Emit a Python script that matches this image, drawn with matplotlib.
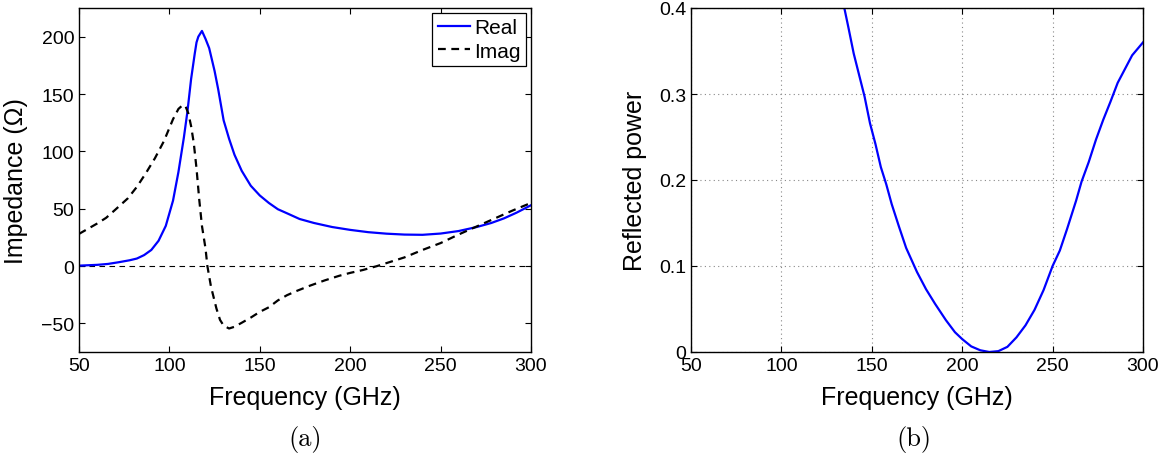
import numpy as np
import matplotlib
matplotlib.use('Agg')
import matplotlib.pyplot as plt

plt.rcParams['font.family'] = ['Liberation Sans', 'DejaVu Sans']

# (a) impedance vs frequency
freq_real = [50, 60, 66, 72, 78, 82, 86, 90, 94, 98, 102, 105, 108, 110, 112, 114, 115,
             116, 118, 120, 122, 125, 127, 130, 133, 136, 140, 145, 150, 155, 160, 165,
             172, 180, 190, 200, 210, 220, 230, 240, 250, 260, 270, 278, 285, 292, 300]
z_real = [0.3, 1, 1.8, 3.3, 5, 6.5, 9.5, 14, 22, 35, 57, 82, 112, 135, 163, 185, 195,
          200, 205, 198, 190, 170, 154, 127, 111, 97, 83, 70, 61.5, 55, 49.5, 46,
          41, 37.5, 34, 31.5, 29.5, 28.2, 27.4, 27.2, 28.3, 30.5, 34, 37.5, 41.5, 46.5, 53]

freq_imag = [50, 60, 65, 70, 77, 82, 87, 92, 97, 102, 105, 107.5, 109, 110.5, 112, 113.5,
             115, 116.5, 118, 120, 121, 123, 126, 128, 130, 133, 136, 140, 145, 150, 155,
             160, 165, 170, 178, 186, 194, 200, 207, 215, 222, 230, 240, 250, 260, 270,
             280, 290, 300]
z_imag = [28, 37, 42, 49, 59, 69, 81, 94, 109, 128, 137, 140.5, 139, 133, 122, 107,
          85, 58, 35, 15, 0, -18, -37, -47, -52, -54.5, -53, -49.5, -45, -40, -36,
          -30, -25.5, -22, -17, -12.5, -8.5, -6, -3.5, 0, 3.5, 7.5, 14, 20, 27.5, 34.5,
          41.5, 48.5, 55]

# (b) reflected power vs frequency
freq_refl = [134, 137, 140, 143, 146, 149, 152, 155, 158, 161, 165, 169, 175, 180, 185,
             191, 196, 200, 205, 210, 215, 220, 225, 230, 235, 240, 245, 250, 254, 258,
             263, 266, 270, 274, 278, 282, 286, 290, 294, 300]
p_refl = [0.408, 0.378, 0.347, 0.322, 0.297, 0.266, 0.242, 0.215, 0.195, 0.172, 0.146,
          0.121, 0.093, 0.073, 0.056, 0.037, 0.023, 0.015, 0.0065, 0.002, 0.0, 0.001,
          0.006, 0.017, 0.031, 0.049, 0.072, 0.1, 0.118, 0.143, 0.176, 0.198, 0.221,
          0.247, 0.27, 0.291, 0.313, 0.329, 0.345, 0.36]

x_ticks = [50, 100, 150, 200, 250, 300]
z_ticks = [-50, 0, 50, 100, 150, 200]
p_ticks = [0, 0.1, 0.2, 0.3, 0.4]
p_ticklabels = ['0', '0.1', '0.2', '0.3', '0.4']

W, H = 1164, 464
fig = plt.figure(figsize=(W / 100, H / 100), dpi=100)
ax1 = fig.add_axes([79 / W, 1 - 353 / H, (531 - 79) / W, (353 - 9) / H])
ax2 = fig.add_axes([691 / W, 1 - 353 / H, (1143 - 691) / W, (353 - 9) / H])


def matlab_axes(ax):
    ax.tick_params(direction='in', length=4, width=0.8, top=True, right=True,
                   labelsize=14, colors='k')
    for s in ax.spines.values():
        s.set_linewidth(1.0)
        s.set_color('k')


# left panel
ax1.axhline(0, color='k', lw=0.8, ls=(0, (5, 4)))
ax1.plot(freq_real, z_real, color='#0000ff', lw=1.6, label='Real')
ax1.plot(freq_imag, z_imag, color='k', lw=1.6, ls=(0, (3.5, 2.5)), label='Imag')
ax1.set_xlim(50, 300)
ax1.set_ylim(-75, 225)
ax1.set_xticks(x_ticks)
ax1.set_yticks(z_ticks)
matlab_axes(ax1)
ax1.set_xlabel('Frequency (GHz)', fontsize=18, labelpad=8)
ax1.set_ylabel('Impedance (\u03a9)', fontsize=18)
ax1.yaxis.set_label_coords(-0.113, 0.5)
leg = ax1.legend(loc='upper right', fontsize=15, fancybox=False, framealpha=1,
                 edgecolor='k', borderaxespad=0.25, borderpad=0.25, labelspacing=0.2,
                 handlelength=1.55, handletextpad=0.2)
leg.get_frame().set_linewidth(0.9)

# right panel
ax2.plot(freq_refl, p_refl, color='#0000ff', lw=1.6)
ax2.set_xlim(50, 300)
ax2.set_ylim(0, 0.4)
ax2.set_xticks(x_ticks)
ax2.set_yticks(p_ticks)
ax2.set_yticklabels(p_ticklabels)
ax2.grid(True, color='#888888', ls=(0, (1, 3)), lw=0.8)
matlab_axes(ax2)
ax2.set_xlabel('Frequency (GHz)', fontsize=18, labelpad=8)
ax2.set_ylabel('Reflected power', fontsize=18)
ax2.yaxis.set_label_coords(-0.097, 0.5)

fig.text(305 / W, 1 - 440 / H, '(a)', fontfamily='cmr10', fontsize=19,
         ha='center', va='center')
fig.text(914 / W, 1 - 440 / H, '(b)', fontfamily='cmr10', fontsize=19,
         ha='center', va='center')

fig.savefig('out.png', dpi=100)
